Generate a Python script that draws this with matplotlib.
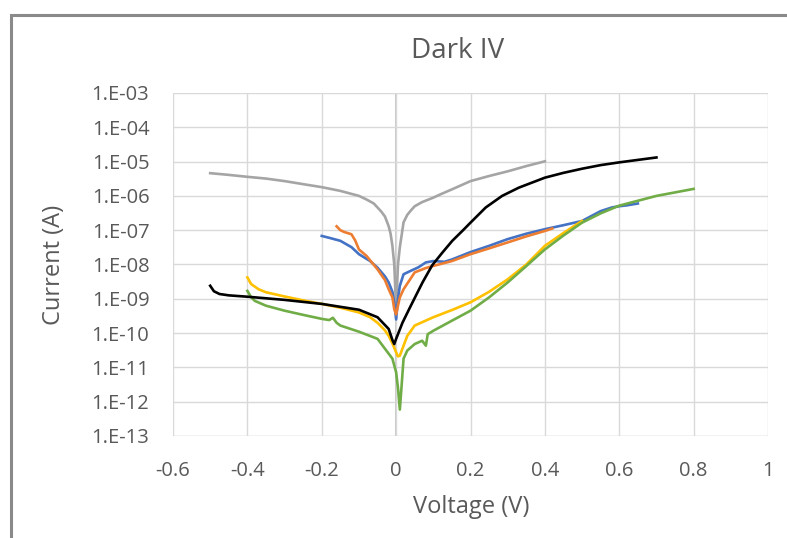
import numpy as np
import matplotlib
matplotlib.use("Agg")
import matplotlib.pyplot as plt
from matplotlib.lines import Line2D
from matplotlib.ticker import FuncFormatter, FixedLocator

plt.rcParams['font.family'] = ['Open Sans', 'DejaVu Sans']

# ---- data (voltage in V, current in A) ----
v_gray = [-0.5, -0.45, -0.4, -0.35, -0.3, -0.25, -0.2, -0.15, -0.1, -0.08, -0.06, -0.04, -0.03,
          -0.02, -0.015, -0.01, -0.005, 0.0,
          0.005, 0.01, 0.02, 0.03, 0.04, 0.05, 0.07, 0.1, 0.12, 0.15, 0.2, 0.25, 0.3, 0.35, 0.4]
i_gray = [4.6e-6, 4.1e-6, 3.6e-6, 3.2e-6, 2.7e-6, 2.2e-6, 1.8e-6, 1.4e-6, 1.0e-6, 7.9e-7, 6.0e-7, 3.5e-7, 2.5e-7,
          1.3e-7, 8.0e-8, 3.5e-8, 1.0e-8, 5.0e-10,
          1.0e-8, 3.2e-8, 1.7e-7, 2.8e-7, 3.8e-7, 5.0e-7, 6.6e-7, 8.9e-7, 1.12e-6, 1.55e-6, 2.7e-6, 3.8e-6, 5.2e-6, 7.4e-6, 1.02e-5]

v_blue = [-0.2, -0.18, -0.15, -0.12, -0.1, -0.07, -0.05, -0.03, -0.02, -0.01, -0.005, 0.0,
          0.005, 0.01, 0.02, 0.04, 0.06, 0.08, 0.1, 0.13, 0.15, 0.2, 0.25, 0.3, 0.35,
          0.4, 0.45, 0.5, 0.55, 0.58, 0.6, 0.62, 0.65]
i_blue = [6.8e-8, 6.0e-8, 4.9e-8, 3.2e-8, 2.0e-8, 1.26e-8, 8.1e-9, 4.5e-9, 3.0e-9, 1.6e-9, 7.9e-10, 2.5e-10,
          1.0e-9, 2.4e-9, 5.2e-9, 6.6e-9, 8.3e-9, 1.15e-8, 1.26e-8, 1.2e-8, 1.4e-8, 2.3e-8, 3.5e-8, 5.5e-8, 7.9e-8,
          1.07e-7, 1.4e-7, 1.86e-7, 3.6e-7, 4.6e-7, 5.0e-7, 5.3e-7, 6.0e-7]

v_orange = [-0.16, -0.15, -0.14, -0.12, -0.11, -0.1, -0.08, -0.05, -0.03, -0.02, -0.01, -0.005, 0.0,
            0.005, 0.01, 0.02, 0.05, 0.08, 0.1, 0.15, 0.2, 0.25, 0.3, 0.35, 0.4, 0.42]
i_orange = [1.3e-7, 1.0e-7, 8.9e-8, 7.6e-8, 5.0e-8, 2.75e-8, 1.8e-8, 7.2e-9, 3.5e-9, 1.9e-9, 1.1e-9, 5.0e-10, 3.5e-10,
            6.3e-10, 1.1e-9, 1.9e-9, 5.9e-9, 7.9e-9, 9.1e-9, 1.26e-8, 2.0e-8, 2.95e-8, 4.4e-8, 6.6e-8, 9.5e-8, 1.12e-7]

v_yellow = [-0.4, -0.39, -0.37, -0.35, -0.3, -0.25, -0.2, -0.15, -0.1, -0.07, -0.05, -0.03, -0.02, -0.01, 0.0, 0.005, 0.01,
            0.02, 0.03, 0.05, 0.1, 0.15, 0.2, 0.25, 0.3, 0.35, 0.4, 0.45, 0.5]
i_yellow = [4.2e-9, 2.7e-9, 1.9e-9, 1.55e-9, 1.17e-9, 9.0e-10, 7.1e-10, 5.5e-10, 4.0e-10, 2.9e-10, 2.0e-10, 1.2e-10, 8.3e-11, 5.0e-11, 2.75e-11, 2.1e-11, 2.2e-11,
            4.3e-11, 8.3e-11, 1.66e-10, 2.9e-10, 4.7e-10, 7.9e-10, 1.6e-9, 3.7e-9, 1.0e-8, 3.5e-8, 8.3e-8, 1.86e-7]

v_green = [-0.4, -0.39, -0.38, -0.35, -0.3, -0.25, -0.2, -0.18, -0.17, -0.16, -0.15, -0.1, -0.05, -0.03,
           -0.01, 0.0, 0.005, 0.01, 0.015, 0.02, 0.03, 0.05, 0.07, 0.08, 0.085, 0.1, 0.15, 0.2,
           0.25, 0.3, 0.35, 0.4, 0.45, 0.5, 0.55, 0.6, 0.7, 0.8]
i_green = [1.7e-9, 1.12e-9, 8.7e-10, 6.3e-10, 4.5e-10, 3.4e-10, 2.6e-10, 2.4e-10, 2.8e-10, 2.0e-10, 1.66e-10, 1.1e-10, 6.8e-11, 3.5e-11,
           1.8e-11, 7.2e-12, 2.5e-12, 5.9e-13, 3.2e-12, 1.8e-11, 3.1e-11, 4.8e-11, 6.0e-11, 4.3e-11, 9.3e-11, 1.17e-10, 2.3e-10, 4.5e-10,
           1.1e-9, 3.0e-9, 9.0e-9, 2.75e-8, 7.0e-8, 1.66e-7, 3.1e-7, 5.2e-7, 1.0e-6, 1.6e-6]

v_black = [-0.5, -0.49, -0.475, -0.45, -0.4, -0.3, -0.2, -0.1, -0.05, -0.02, -0.01, -0.005, 0.0,
           0.017, 0.035, 0.053, 0.071, 0.097, 0.124, 0.151, 0.178, 0.2, 0.241, 0.285, 0.33,
           0.4, 0.45, 0.5, 0.55, 0.6, 0.65, 0.7]
i_black = [2.4e-9, 1.66e-9, 1.38e-9, 1.26e-9, 1.15e-9, 9.3e-10, 7.1e-10, 4.8e-10, 2.9e-10, 1.32e-10, 6.3e-11, 4.8e-11, 6.8e-11,
           2.0e-10, 5.0e-10, 1.23e-9, 3.0e-9, 9.5e-9, 2.2e-8, 4.9e-8, 9.5e-8, 1.66e-7, 4.6e-7, 1.0e-6, 1.74e-6,
           3.4e-6, 4.7e-6, 6.2e-6, 7.9e-6, 9.5e-6, 1.12e-5, 1.32e-5]

x_ticks = [-0.6, -0.4, -0.2, 0, 0.2, 0.4, 0.6, 0.8, 1]
y_ticks = [10.0 ** e for e in range(-13, -2)]

text_col = '#595959'

fig = plt.figure(figsize=(7.87, 5.38), dpi=100)
W, H = 787, 538
ax = fig.add_axes([173 / W, 1 - 436 / H, (768 - 173) / W, (436 - 93) / H])

# chart frame: only left and top edges show, the rest runs off the image
fy = 1 - 14.5 / H
fx = 10.5 / W
fig.lines.append(Line2D([fx, fx, 1.05], [-0.05, fy, fy], transform=fig.transFigure,
                        color='#8a8a8a', lw=2.2, solid_joinstyle='miter'))

series = [
    (v_gray, i_gray, '#A5A5A5'),
    (v_blue, i_blue, '#4472C4'),
    (v_orange, i_orange, '#ED7D31'),
    (v_yellow, i_yellow, '#FFC000'),
    (v_green, i_green, '#70AD47'),
    (v_black, i_black, '#000000'),
]
for v, i, c in series:
    ax.plot(v, i, color=c, lw=1.9, solid_joinstyle='round', zorder=3)

ax.set_yscale('log')
ax.set_xlim(-0.6, 1.0)
ax.set_ylim(1e-13, 1e-3)
ax.xaxis.set_major_locator(FixedLocator(x_ticks))
ax.yaxis.set_major_locator(FixedLocator(y_ticks))
ax.yaxis.set_minor_locator(FixedLocator([]))
ax.xaxis.set_major_formatter(FuncFormatter(lambda v, p: f"{v:g}"))
ax.yaxis.set_major_formatter(FuncFormatter(lambda v, p: "1.E-%02d" % round(-np.log10(v))))

ax.grid(True, color='#D9D9D9', lw=1.0, zorder=0)
for s in ax.spines.values():
    s.set_visible(False)
ax.axvline(0, color='#BFBFBF', lw=1.2, zorder=1)
ax.axhline(1e-13, color='#D9D9D9', lw=1.0, zorder=1)

ax.tick_params(axis='both', length=0, labelsize=14.5, labelcolor=text_col)
ax.tick_params(axis='y', pad=17)
ax.tick_params(axis='x', pad=18)

fig.text(458 / W, 1 - 58 / H, 'Dark IV', ha='center', va='baseline',
         fontsize=20, color=text_col)
fig.text(471 / W, 1 - 513 / H, 'Voltage (V)', ha='center', va='baseline',
         fontsize=17, color=text_col)
fig.text(54 / W, 1 - 264.5 / H, 'Current (A)', ha='center', va='center',
         rotation=90, fontsize=17, color=text_col)

fig.savefig('out.png', dpi=100)
